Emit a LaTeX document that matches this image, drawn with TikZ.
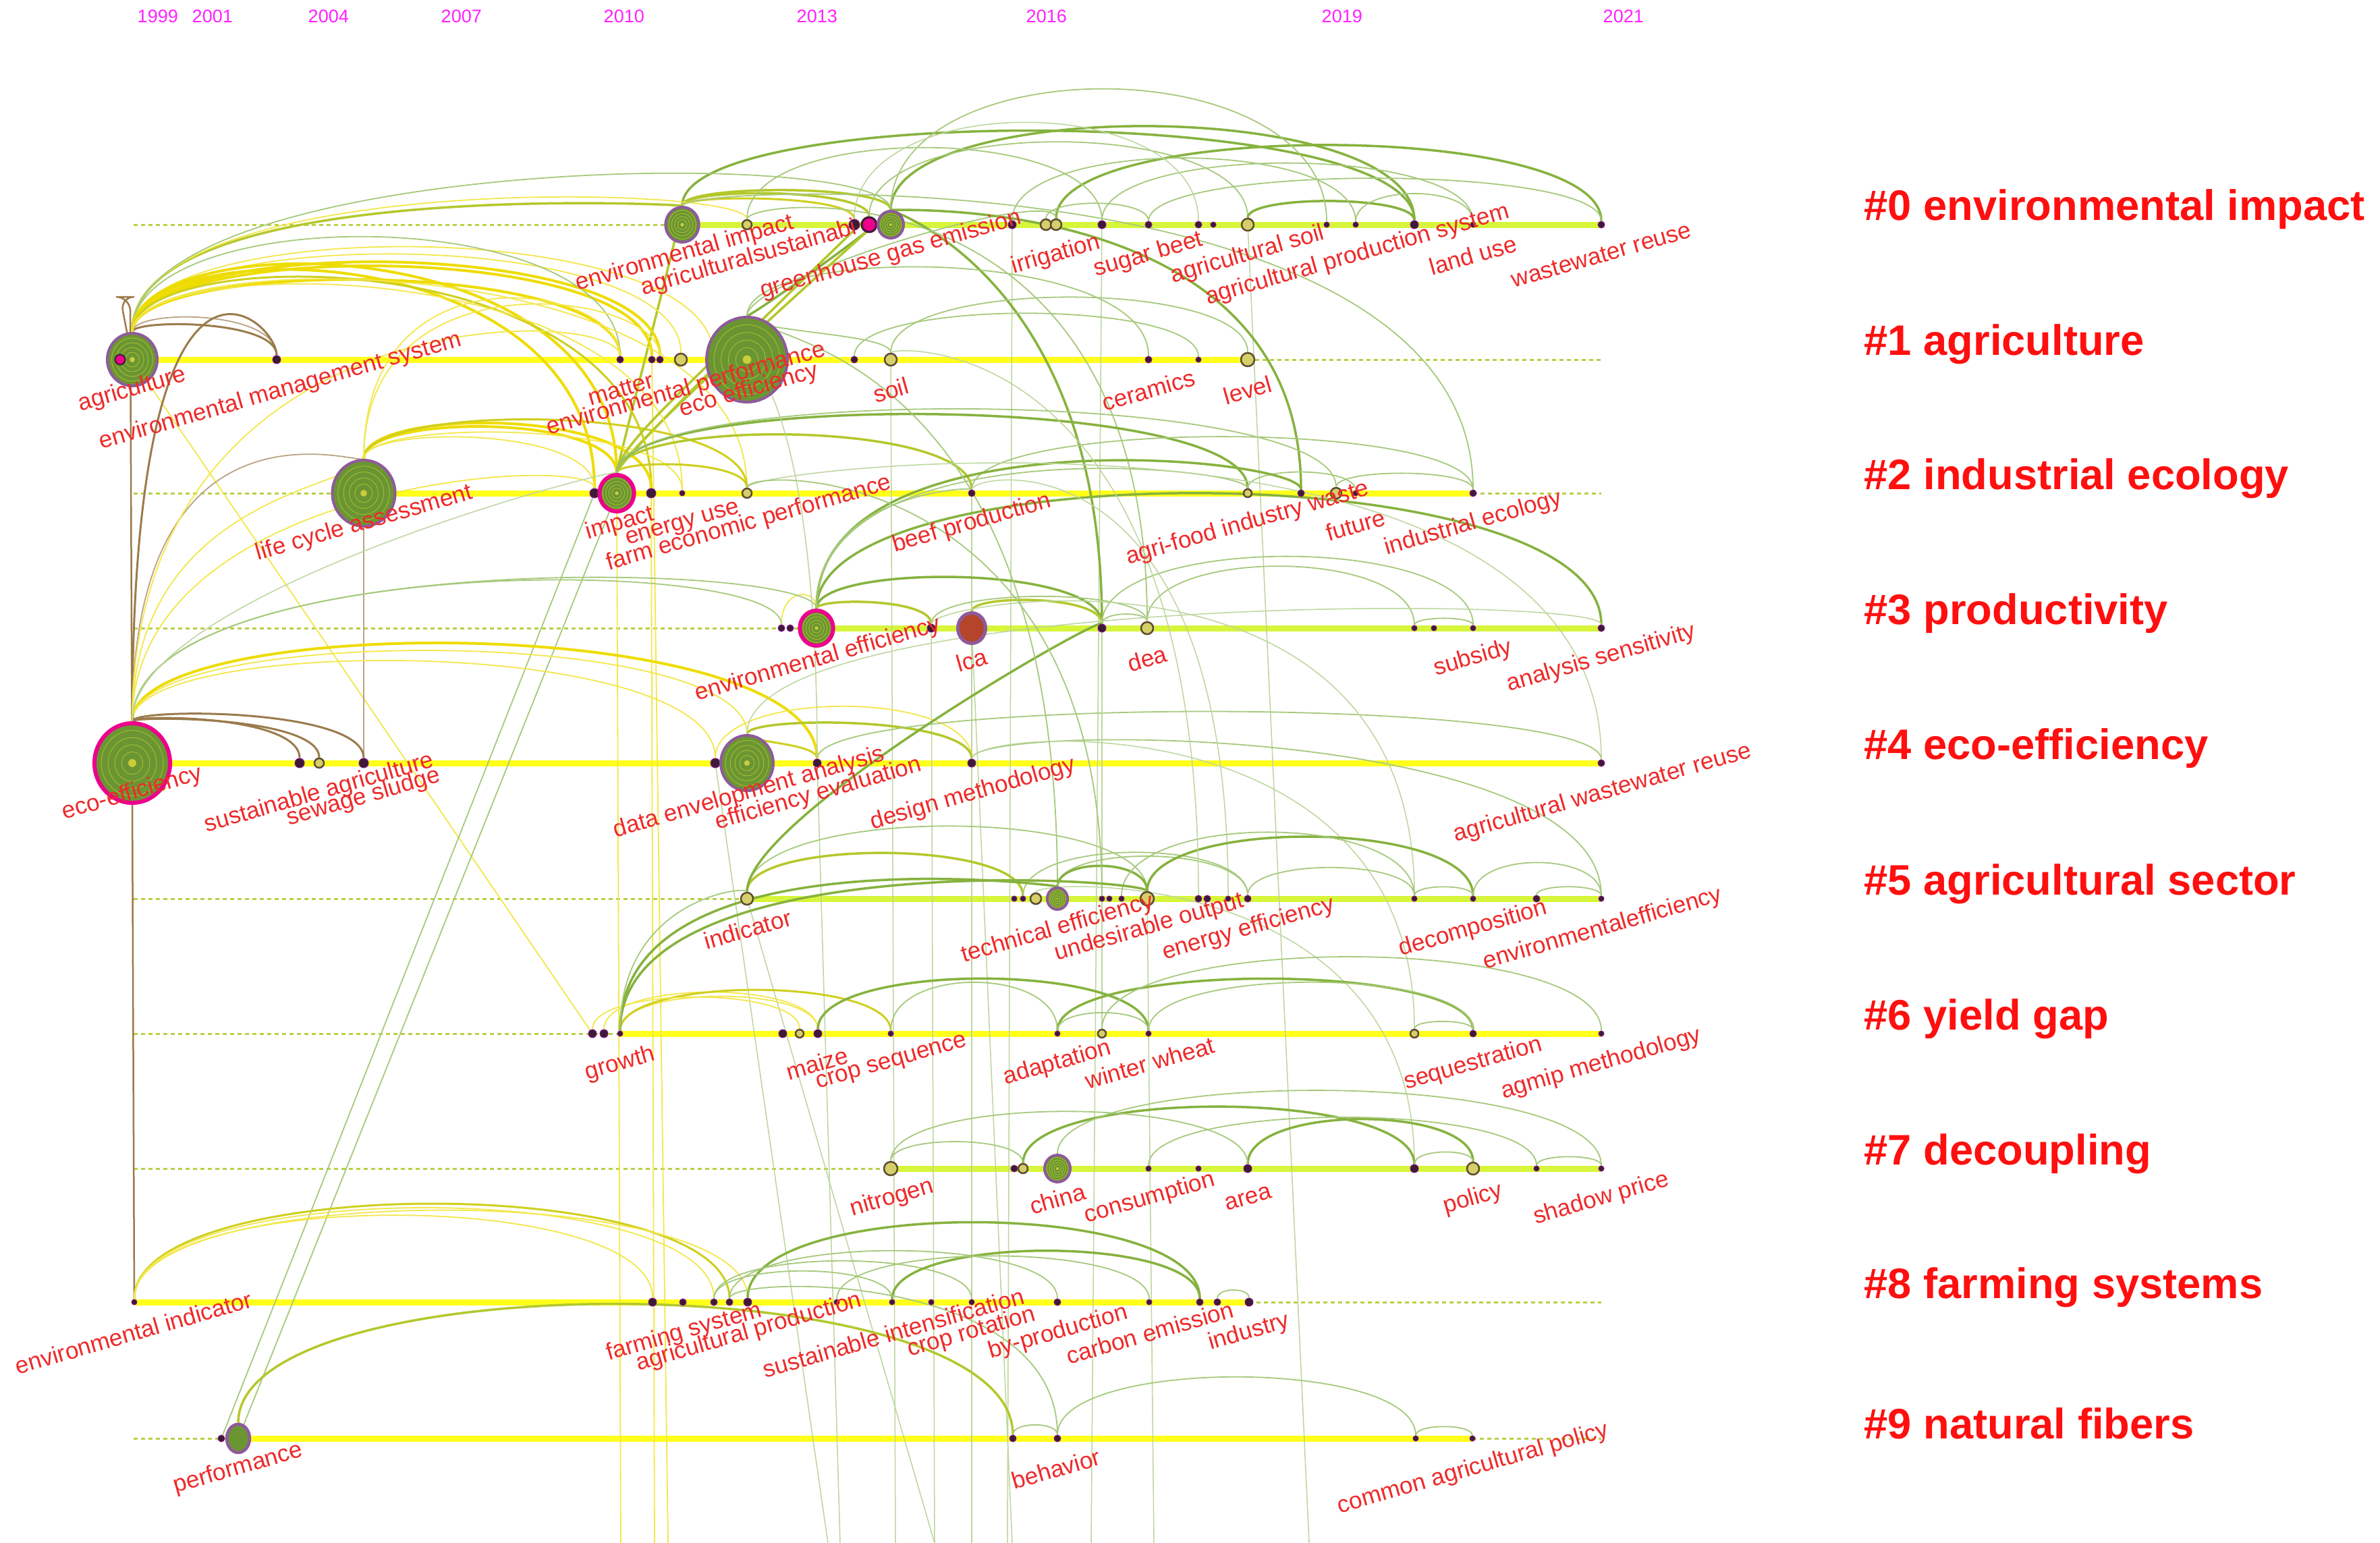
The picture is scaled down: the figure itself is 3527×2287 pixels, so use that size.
\documentclass[tikz,border=0pt]{standalone}
\usepackage{fontspec}
\setmainfont{Liberation Sans}
\usetikzlibrary{shapes.geometric}
\pgfdeclarelayer{back}
\pgfdeclarelayer{rows}
\pgfdeclarelayer{arcs}
\pgfsetlayers{back,rows,arcs,main}
\definecolor{cY}{HTML}{FFFF1A}
\definecolor{cL}{HTML}{D7F53A}
\definecolor{cD}{HTML}{B9D045}
\definecolor{aY}{HTML}{EEDC00}
\definecolor{aO}{HTML}{CFCF1F}
\definecolor{aYG}{HTML}{B4C82C}
\definecolor{aG}{HTML}{86B23E}
\definecolor{aGL}{HTML}{A6C97C}
\definecolor{aBR}{HTML}{9B7B4C}
\definecolor{lblred}{HTML}{EE2A2A}
\definecolor{clred}{HTML}{FF0F0F}
\definecolor{yrc}{HTML}{FF22FF}
\definecolor{nfill}{HTML}{6B9533}
\definecolor{nring}{HTML}{8E5A9C}
\definecolor{nin}{HTML}{93B23F}
\definecolor{ndark}{HTML}{3A1C38}
\definecolor{nopen}{HTML}{D5CF6A}
\definecolor{nopend}{HTML}{5E4B30}
\definecolor{lcaC}{HTML}{B5452A}
\tikzset{
 rowY/.style={cY, line width=0.9mm},
 rowL/.style={cL, line width=0.9mm},
 rowD/.style={cD, line width=0.3mm, dash pattern=on 0.6mm off 0.5mm},
 lbl/.style={text=lblred, font=\fontsize{10}{10}\selectfont, rotate=16, inner sep=0pt},
 clu/.style={text=clred, font=\fontsize{18}{18}\selectfont\bfseries, anchor=west, inner sep=0pt},
 yrs/.style={text=yrc, font=\fontsize{7.7}{8}\selectfont, anchor=west, inner sep=0pt},
 dk/.style={circle, fill=ndark, draw=ndark!60!magenta, line width=0.1mm, inner sep=0pt, minimum size={#1*0.2mm}},
 op/.style={circle, fill=nopen, draw=nopend, line width=0.25mm, inner sep=0pt, minimum size={#1*0.2mm}},
 bgn/.style={ellipse, fill=nfill, draw=nring, line width=0.4mm, inner sep=0pt, minimum width={#1*0.19mm}, minimum height={#1*0.2mm}},
 bmg/.style={ellipse, fill=nfill, draw=magenta, line width=0.6mm, inner sep=0pt, minimum width={#1*0.19mm}, minimum height={#1*0.2mm}},
 ly/.style={aY, line width=0.4mm},
 lyt/.style={aY!70!white, line width=0.18mm},
 lyo/.style={aO, line width=0.3mm},
 lyg/.style={aYG, line width=0.35mm},
 lg/.style={aG, line width=0.35mm},
 lgt/.style={aGL, line width=0.18mm},
 lgl/.style={aGL!75!white, line width=0.15mm},
 lbr/.style={aBR, line width=0.3mm},
 lbrt/.style={aBR!70!white, line width=0.18mm}
}
\newcommand\lk[5][lgt]{\draw[#1] (#2) .. controls +(0,-#4) and +(0,-#5) .. (#3);}
\newcommand\dn[4]{\node[dk=#4] (#1) at (#2,#3) {};}
\newcommand\on[4]{\node[op=#4] (#1) at (#2,#3) {};}
\newcommand\bnode[5]{\node[#5=#4] (#1) at (#2,#3) {};
 \foreach \f in {0.82,0.64,0.46,0.28}{\draw[nin!75!yellow, line width=0.1mm, opacity=0.8] (#1.center) ellipse[x radius=0.95*\f*#4, y radius=\f*#4];}
 \fill[yellow!60!nfill] (#1.center) circle[radius=0.1*#4];}
\begin{document}
\begin{tikzpicture}[x=0.1mm,y=-0.1mm]
\useasboundingbox (0,0) rectangle (3527,2287);
\begin{pgfonlayer}{back}
\fill[white] (0,0) rectangle (3527,2287);
\end{pgfonlayer}
% ---------- years
\node[yrs] (y1999) at (203,24) {1999};
\node[yrs] (y2001) at (284,24) {2001};
\node[yrs] (y2004) at (456,24) {2004};
\node[yrs] (y2007) at (653,24) {2007};
\node[yrs] (y2010) at (894,24) {2010};
\node[yrs] (y2013) at (1180,24) {2013};
\node[yrs] (y2016) at (1520,24) {2016};
\node[yrs] (y2019) at (1958,24) {2019};
\node[yrs] (y2021) at (2375,24) {2021};
% ---------- row 0
\bnode{r0a}{1011}{333}{26}{bgn}
\on{r0b}{1107}{333}{7}
\dn{r0c}{1266}{333}{8}
\node[circle, fill=magenta, draw=ndark, line width=0.3mm, minimum size=2.2mm, inner sep=0pt] (r0d) at (1288,333) {};
\bnode{r0e}{1320}{333}{20}{bgn}
\dn{r0f}{1500}{333}{6}
\on{r0g}{1550}{333}{8}
\on{r0h}{1565}{333}{8}
\dn{r0i}{1633}{333}{6}
\dn{r0j}{1702}{333}{5}
\dn{r0k}{1776}{333}{5}
\dn{r0l}{1798}{333}{4}
\on{r0m}{1849}{333}{9}
\dn{r0n}{1966}{333}{4}
\dn{r0o}{2009}{333}{4}
\dn{r0p}{2096}{333}{6}
\dn{r0q}{2183}{333}{4}
\dn{r0r}{2373}{333}{5}
% ---------- row 1
\bnode{r1a}{196}{533}{39}{bgn}
\node[circle, fill=magenta, draw=ndark, line width=0.2mm, minimum size=1.5mm, inner sep=0pt] (r1am) at (178,533) {};
\dn{r1b}{410}{533}{6}
\dn{r1c}{919}{533}{5}
\dn{r1d}{966}{533}{5}
\dn{r1e}{978}{533}{5}
\on{r1f}{1009}{533}{9}
\dn{r1g}{1057}{533}{6}
\bnode{r1h}{1107}{533}{63}{bgn}
\dn{r1i}{1266}{533}{5}
\on{r1j}{1320}{533}{9}
\dn{r1k}{1702}{533}{5}
\dn{r1l}{1776}{533}{4}
\on{r1m}{1849}{533}{10}
% ---------- row 2
\bnode{r2a}{539}{731}{49}{bgn}
\dn{r2b}{881}{731}{7}
\bnode{r2c}{914}{731}{27}{bmg}
\dn{r2d}{965}{731}{7}
\dn{r2e}{1011}{731}{4}
\on{r2f}{1107}{731}{7}
\dn{r2g}{1440}{731}{5}
\on{r2h}{1849}{731}{6}
\dn{r2i}{1928}{731}{5}
\on{r2j}{1980}{731}{8}
\dn{r2k}{2009}{731}{4}
\dn{r2l}{2183}{731}{5}
% ---------- row 3
\dn{r3a}{1158}{931}{5}
\dn{r3b}{1171}{931}{5}
\bnode{r3c}{1210}{931}{26}{bmg}
\dn{r3d}{1380}{931}{6}
\node[ellipse, fill=lcaC, draw=nring, line width=0.5mm, minimum width=4.1mm, minimum height=4.5mm, inner sep=0pt] (r3e) at (1440,931) {};
\dn{r3f}{1633}{931}{6}
\on{r3g}{1700}{931}{9}
\dn{r3h}{2096}{931}{4}
\dn{r3i}{2125}{931}{4}
\dn{r3j}{2183}{931}{4}
\dn{r3k}{2373}{931}{5}
% ---------- row 4
\bnode{r4a}{196}{1131}{59}{bmg}
\dn{r4b}{444}{1131}{7}
\on{r4c}{473}{1131}{7}
\dn{r4d}{539}{1131}{7}
\dn{r4e}{1060}{1131}{7}
\bnode{r4f}{1107}{1131}{41}{bgn}
\dn{r4g}{1211}{1131}{6}
\dn{r4h}{1440}{1131}{6}
\dn{r4i}{2373}{1131}{5}
% ---------- row 5
\on{r5a}{1107}{1332}{9}
\dn{r5b}{1503}{1332}{4}
\dn{r5c}{1516}{1332}{4}
\on{r5d}{1535}{1332}{8}
\bnode{r5e}{1567}{1332}{16}{bgn}
\dn{r5f}{1633}{1332}{4}
\dn{r5g}{1644}{1332}{4}
\dn{r5h}{1662}{1332}{4}
\on{r5i}{1700}{1332}{10}
\dn{r5j}{1776}{1332}{5}
\dn{r5k}{1789}{1332}{5}
\dn{r5l}{1820}{1332}{4}
\dn{r5m}{1849}{1332}{5}
\dn{r5n}{2096}{1332}{4}
\dn{r5o}{2183}{1332}{4}
\dn{r5p}{2277}{1332}{5}
\dn{r5q}{2373}{1332}{4}
% ---------- row 6
\dn{r6a}{878}{1532}{6}
\dn{r6b}{895}{1532}{6}
\dn{r6c}{919}{1532}{4}
\dn{r6d}{1160}{1532}{6}
\on{r6e}{1185}{1532}{6}
\dn{r6f}{1212}{1532}{6}
\dn{r6g}{1320}{1532}{4}
\dn{r6h}{1567}{1532}{4}
\on{r6i}{1633}{1532}{6}
\dn{r6j}{1702}{1532}{4}
\on{r6k}{2096}{1532}{6}
\dn{r6l}{2183}{1532}{5}
\dn{r6m}{2373}{1532}{4}
% ---------- row 7
\on{r7a}{1320}{1732}{10}
\dn{r7b}{1503}{1732}{5}
\on{r7c}{1516}{1732}{7}
\bnode{r7d}{1567}{1732}{20}{bgn}
\dn{r7e}{1702}{1732}{4}
\dn{r7f}{1776}{1732}{4}
\dn{r7g}{1849}{1732}{6}
\dn{r7h}{2096}{1732}{6}
\on{r7i}{2183}{1732}{9}
\dn{r7j}{2277}{1732}{4}
\dn{r7k}{2373}{1732}{4}
% ---------- row 8
\dn{r8a}{199}{1930}{4}
\dn{r8b}{967}{1930}{6}
\dn{r8c}{1012}{1930}{5}
\dn{r8d}{1058}{1930}{5}
\dn{r8e}{1081}{1930}{5}
\dn{r8f}{1108}{1930}{6}
\dn{r8g}{1240}{1930}{4}
\dn{r8h}{1322}{1930}{4}
\dn{r8i}{1380}{1930}{4}
\dn{r8j}{1440}{1930}{4}
\dn{r8k}{1567}{1930}{5}
\dn{r8l}{1703}{1930}{4}
\dn{r8m}{1778}{1930}{5}
\dn{r8n}{1804}{1930}{5}
\dn{r8o}{1851}{1930}{6}
% ---------- row 9
\dn{r9a}{328}{2132}{5}
\node[ellipse, fill=nfill, draw=nring, line width=0.45mm, minimum width=3.4mm, minimum height=4.2mm, inner sep=0pt] (r9b) at (353,2132) {};
\dn{r9c}{1501}{2132}{5}
\dn{r9d}{1567}{2132}{5}
\dn{r9e}{2098}{2132}{4}
\dn{r9f}{2182}{2132}{4}
% ---------- free coordinates
\coordinate (s0) at (198,333); \coordinate (s2) at (198,731); \coordinate (s3) at (198,931);
\coordinate (s5) at (198,1332); \coordinate (s6) at (198,1532); \coordinate (s7) at (198,1732);
\coordinate (s9) at (198,2132);
\coordinate (e1) at (2373,533); \coordinate (e2) at (2373,731); \coordinate (e8) at (2373,1930); \coordinate (e9) at (2373,2132);
\coordinate (vt1) at (193,440); \coordinate (vt2) at (178,440);
\coordinate (b1) at (920,2287); \coordinate (b2) at (970,2287); \coordinate (b3) at (1227,2287);
\coordinate (b4) at (1327,2287); \coordinate (b5) at (1385,2287); \coordinate (b6) at (1440,2287);
\coordinate (b7) at (1493,2287); \coordinate (b8) at (1617,2287); \coordinate (b9) at (1940,2287);
\coordinate (b10) at (990,2287); \coordinate (b11) at (1245,2287); \coordinate (b12) at (1385,2287);
\coordinate (b13) at (1500,2287); \coordinate (b14) at (1710,2287);
% ---------- row lines
\begin{pgfonlayer}{rows}
\draw[rowD] (s0) -- (r0a.center); \draw[rowL] (r0a.center) -- (r0r.center);
\draw[rowY] (r1a.center) -- (r1m.center); \draw[rowD] (r1m.center) -- (e1);
\draw[rowD] (s2) -- (r2a.center); \draw[rowY] (r2a.center) -- (r2l.center); \draw[rowD] (r2l.center) -- (e2);
\draw[rowD] (s3) -- (r3c.center); \draw[rowL] (r3c.center) -- (r3k.center);
\draw[rowY] (r4a.center) -- (r4i.center);
\draw[rowD] (s5) -- (r5a.center); \draw[rowL] (r5a.center) -- (r5q.center);
\draw[rowD] (s6) -- (r6c.center); \draw[rowY] (r6c.center) -- (r6m.center);
\draw[rowD] (s7) -- (r7a.center); \draw[rowL] (r7a.center) -- (r7k.center);
\draw[rowY] (r8a.center) -- (r8o.center); \draw[rowD] (r8o.center) -- (e8);
\draw[rowD] (s9) -- (r9b.center); \draw[rowY] (r9b.center) -- (r9f.center); \draw[rowD] (r9f.center) -- (e9);
\end{pgfonlayer}
% ---------- links
\begin{pgfonlayer}{arcs}
% long straight-ish lines
\draw[lyt] (r2c) -- (b1); \draw[lyt] (r2d) -- (b2); \draw[lyt] (r1d) -- (b10);
\draw[lgl] (r4e) -- (b3); \draw[lgl] (r1j) -- (b4); \draw[lgl] (r3d) -- (b5);
\draw[lgl] (r2g) -- (b6); \draw[lgl] (r0f) -- (b7); \draw[lgl] (r0i) -- (b8); \draw[lgl] (r0m) -- (b9);
\draw[lgl] (r4g) -- (b11); \draw[lgl] (r5a) -- (b12); \draw[lgl] (r3e) -- (b13); \draw[lgl] (r5i) -- (b14);
\draw[lyt] (r1a) -- (r6a); \draw[lgt] (r2b) -- (r9a); \draw[lgt] (r9b) -- (r2c);
\draw[lbr, line width=0.25mm, rounded corners=6] (r8a.center) -- (vt1) -- (vt2) -- (r1a.center);
\draw[lbrt] (r2a) -- (r4d);
% row 0
\lk[lg]{r0a}{r0p}{180}{180}
\lk[lyg]{r0a}{r0e}{60}{60}
\lk[lyg]{r0a}{r0d}{55}{55}
\lk[lyo]{r0a}{r0c}{45}{45}
\lk[lg]{r0e}{r0p}{190}{190}
\lk[lgt]{r0d}{r0m}{160}{160}
\lk[lg]{r0h}{r0r}{155}{155}
\lk[lgt]{r0j}{r0r}{90}{90}
\lk[lg]{r0m}{r0p}{44}{44}
\lk[lgt]{r0e}{r0n}{264}{264}
\lk[lgt]{r0b}{r0i}{150}{150}
\lk[lgt]{r0f}{r0o}{130}{130}
\lk[lgt]{r0i}{r0q}{120}{120}
\lk[lgl]{r0c}{r0k}{200}{200}
\lk[lgt]{r0o}{r0q}{60}{60}
\lk[lgt]{r0g}{r0j}{40}{40}
\lk[lyg]{r1a}{r0a}{270}{30}
\lk[lyt]{r1a}{r0b}{280}{60}
\lk[lgt]{r1a}{r0e}{300}{120}
\lk[lg]{r1h}{r0e}{60}{10}
\lk[lgt]{r1h}{r0h}{120}{60}
\lk[lyg]{r2c}{r0a}{40}{10}
\lk[lyg]{r2c}{r0e}{60}{20}
\lk[lyg]{r2c}{r0d}{50}{15}
\lk[lg]{r0e}{r3f}{20}{520}
\lk[lg]{r0e}{r2i}{20}{450}
\lk[lgt]{r0a}{r2l}{60}{500}
\lk[lgt]{r0b}{r3g}{40}{700}
% row 1
\lk[ly]{r1a}{r1d}{177}{177}
\lk[ly]{r1a}{r1e}{185}{185}
\lk[ly]{r1a}{r1c}{150}{150}
\lk[lyt]{r1a}{r1f}{200}{200}
\lk[lyt]{r1a}{r1g}{215}{215}
\lk[lgt]{r1a}{r1c}{235}{235}
\lk[lbr]{r1a}{r1b}{60}{60}
\lk[lbrt]{r1a}{r1b}{75}{75}
\lk[ly]{r1a}{r2c}{200}{398}
\lk[ly]{r1a}{r2b}{190}{388}
\lk[lyo]{r1a}{r2d}{175}{373}
\lk[lyt]{r1a}{r2e}{160}{358}
\lk[lyt]{r1a}{r2f}{170}{368}
\lk[lgt]{r1h}{r1j}{40}{40}
\lk[lgt]{r1h}{r1k}{170}{170}
\lk[lgt]{r1j}{r1m}{120}{120}
\lk[lgt]{r1i}{r1l}{90}{90}
% row 2
\lk[ly]{r2a}{r2c}{118}{118}
\lk[ly]{r2a}{r2d}{128}{128}
\lk[lyo]{r2a}{r2f}{135}{135}
\lk[lyt]{r2a}{r2e}{110}{110}
\lk[lyt]{r2a}{r2b}{100}{100}
\lk[lyt]{r2a}{r1c}{375}{110}
\lk[lyt]{r2a}{r1e}{360}{100}
\lk[lyg]{r2c}{r2g}{110}{110}
\lk[lyo]{r2c}{r2f}{50}{50}
\lk[lyg]{r2c}{r1h}{80}{30}
\lk[lg]{r2c}{r2h}{150}{150}
\lk[lgt]{r2c}{r2j}{160}{160}
\lk[lgt]{r2h}{r2k}{40}{40}
\lk[lgt]{r2j}{r2l}{37}{37}
\lk[lgt]{r2g}{r2l}{110}{110}
% row 3
\lk[lg]{r3c}{r3k}{261}{261}
\lk[lg]{r3c}{r3f}{95}{95}
\lk[lyg]{r3e}{r3f}{50}{50}
\lk[lg]{r3c}{r2i}{321}{55}
\lk[lgt]{r3c}{r2h}{300}{40}
\lk[lyg]{r3c}{r3d}{45}{45}
\lk[lyt]{r3a}{r3c}{60}{60}
\lk[lgt]{r3g}{r3h}{120}{120}
\lk[lgt]{r3f}{r3j}{140}{140}
\lk[lgt]{r3h}{r3j}{18}{18}
\lk[lgt]{r3d}{r3g}{60}{60}
\lk[lgt]{r3f}{r3g}{25}{25}
\lk[lgt]{r3c}{r2g}{200}{10}
% row 4
\lk[ly]{r4a}{r4g}{225}{225}
\lk[lyt]{r4a}{r4e}{190}{190}
\lk[lyt]{r4a}{r4f}{205}{205}
\lk[lbr]{r4a}{r4b}{72}{72}
\lk[lbr]{r4a}{r4c}{70}{70}
\lk[lbr]{r4a}{r4d}{82}{82}
\lk[lgt]{r4a}{r3a}{310}{110}
\lk[lgt]{r4a}{r3c}{320}{100}
\lk[lbr]{r4a}{r1b}{855}{60}
\lk[lbrt]{r4a}{r2a}{568}{40}
\lk[lyt]{r4a}{r2a}{400}{10}
\lk[lyt]{r4a}{r2b}{420}{60}
\lk[lyt]{r4a}{r1c}{700}{80}
\lk[lgl]{r4a}{r2c}{250}{40}
\lk[lyo]{r4f}{r4g}{30}{30}
\lk[lyt]{r4e}{r4h}{110}{110}
\lk[lyg]{r4f}{r4h}{70}{70}
\lk[lgt]{r4h}{r5q}{60}{260}
\lk[lgt]{r4g}{r4i}{100}{100}
% extra pale cross-row links
\lk[lgl]{r4f}{r3k}{250}{50}
\lk[lgl]{r2f}{r4i}{40}{575}
\lk[lgl]{r3d}{r5n}{40}{560}
\lk[lgl]{r2g}{r5l}{30}{700}
\lk[lgl]{r4h}{r6k}{50}{500}
\lk[lgl]{r5d}{r7h}{30}{450}
\lk[lgl]{r3f}{r6i}{20}{650}
\lk[lgl]{r1g}{r4g}{60}{650}
% row 5
\lk[lyg]{r5a}{r5c}{88}{88}
\lk[lgt]{r5a}{r5i}{140}{140}
\lk[lg]{r5a}{r3f}{120}{20}
\lk[lgt]{r5e}{r5m}{80}{80}
\lk[lg]{r5e}{r5i}{60}{60}
\lk[lgt]{r5c}{r5m}{90}{90}
\lk[lg]{r5i}{r5o}{120}{120}
\lk[lgt]{r5h}{r5n}{130}{130}
\lk[lgt]{r5m}{r5n}{60}{60}
\lk[lgt]{r5n}{r5o}{22}{22}
\lk[lgt]{r5p}{r5q}{22}{22}
\lk[lgt]{r5o}{r5q}{70}{70}
\lk[lgt]{r1h}{r5e}{30}{830}
\lk[lgt]{r2f}{r5f}{40}{650}
\lk[lgl]{r1j}{r5j}{20}{850}
% row 6
\lk[lyt]{r6c}{r6f}{72}{72}
\lk[lyt]{r6b}{r6f}{80}{80}
\lk[lyo]{r6c}{r6g}{85}{85}
\lk[lyt]{r6a}{r6e}{70}{70}
\lk[lg]{r6c}{r5e}{300}{20}
\lk[lg]{r6c}{r5i}{280}{30}
\lk[lgt]{r6c}{r5a}{200}{20}
\lk[lg]{r6f}{r6j}{107}{107}
\lk[lgt]{r6g}{r6h}{100}{100}
\lk[lg]{r6h}{r6l}{107}{107}
\lk[lgt]{r6j}{r6l}{100}{100}
\lk[lgt]{r6k}{r6l}{22}{22}
\lk[lgt]{r6i}{r6m}{150}{150}
\lk[lgt]{r6h}{r6j}{40}{40}
% row 7
\lk[lg]{r7c}{r7h}{120}{120}
\lk[lg]{r7g}{r7i}{95}{95}
\lk[lgt]{r7a}{r7g}{110}{110}
\lk[lgt]{r7d}{r7k}{150}{150}
\lk[lgt]{r7e}{r7j}{100}{100}
\lk[lgt]{r7j}{r7k}{22}{22}
\lk[lgt]{r7h}{r7i}{30}{30}
\lk[lgt]{r7a}{r7c}{50}{50}
% row 8
\lk[lyo]{r8a}{r8e}{193}{193}
\lk[lyt]{r8a}{r8d}{185}{185}
\lk[lyt]{r8a}{r8f}{180}{180}
\lk[lyt]{r8a}{r8b}{170}{170}
\lk[lg]{r8f}{r8m}{156}{156}
\lk[lgt]{r8e}{r8k}{100}{100}
\lk[lgt]{r8d}{r8j}{80}{80}
\lk[lgt]{r8d}{r8h}{60}{60}
\lk[lg]{r8h}{r8m}{100}{100}
\lk[lgt]{r8n}{r8o}{22}{22}
\lk[lgt]{r8g}{r8l}{90}{90}
% row 9
\lk[lyg]{r9b}{r9c}{261}{261}
\lk[lgt]{r9c}{r9d}{25}{25}
\lk[lgt]{r9d}{r9e}{120}{120}
\lk[lgt]{r9e}{r9f}{22}{22}
\lk[lgt]{r8e}{r9d}{40}{250}
\end{pgfonlayer}
% ---------- keyword labels
\node[lbl] (t01) at (1015,376) {environmental impact};
\node[lbl] (t02) at (1110,383) {agriculturalsustainabi};
\node[lbl] (t03) at (1320,378) {greenhouse gas emission};
\node[lbl] (t04) at (1565,378) {irrigation};
\node[lbl] (t05) at (1702,378) {sugar beet};
\node[lbl] (t06) at (1849,378) {agricultural soil};
\node[lbl] (t07) at (2012,378) {agricultural production system};
\node[lbl] (t08) at (2183,378) {land use};
\node[lbl] (t09) at (2373,378) {wastewater reuse};
\node[lbl] (t11) at (196,578) {agriculture};
\node[lbl] (t12) at (416,580) {environmental management system};
\node[lbl] (t13) at (920,577) {matter};
\node[lbl] (t14) at (1017,577) {environmental performance};
\node[lbl] (t15) at (1110,579) {eco efficiency};
\node[lbl] (t16) at (1320,578) {soil};
\node[lbl] (t17) at (1702,578) {ceramics};
\node[lbl] (t18) at (1849,578) {level};
\node[lbl] (t21) at (540,776) {life cycle assessment};
\node[lbl] (t22) at (919,776) {impact};
\node[lbl] (t23) at (1012,778) {energy use};
\node[lbl] (t24) at (1110,776) {farm economic performance};
\node[lbl] (t25) at (1440,776) {beef production};
\node[lbl] (t26) at (1849,776) {agri-food industry waste};
\node[lbl] (t27) at (2009,778) {future};
\node[lbl] (t28) at (2183,776) {industrial ecology};
\node[lbl] (t31) at (1212,978) {environmental efficiency};
\node[lbl] (t32) at (1440,978) {lca};
\node[lbl] (t33) at (1700,976) {dea};
\node[lbl] (t34) at (2183,976) {subsidy};
\node[lbl] (t35) at (2373,976) {analysis sensitivity};
\node[lbl] (t41) at (196,1176) {eco-efficiency};
\node[lbl] (t42) at (473,1176) {sustainable agriculture};
\node[lbl] (t43) at (539,1182) {sewage sludge};
\node[lbl] (t44) at (1110,1175) {data envelopment analysis};
\node[lbl] (t45) at (1213,1177) {efficiency evaluation};
\node[lbl] (t46) at (1442,1177) {design methodology};
\node[lbl] (t47) at (2375,1176) {agricultural wastewater reuse};
\node[lbl] (t51) at (1108,1377) {indicator};
\node[lbl] (t52) at (1567,1377) {technical efficiency};
\node[lbl] (t53) at (1703,1375) {undesirable output};
\node[lbl] (t54) at (1850,1377) {energy efficiency};
\node[lbl] (t55) at (2183,1377) {decomposition};
\node[lbl] (t56) at (2375,1377) {environmentalefficiency};
\node[lbl] (t61) at (919,1577) {growth};
\node[lbl] (t62) at (1211,1576) {maize};
\node[lbl] (t63) at (1322,1576) {crop sequence};
\node[lbl] (t64) at (1567,1576) {adaptation};
\node[lbl] (t65) at (1704,1575) {winter wheat};
\node[lbl] (t66) at (2183,1577) {sequestration};
\node[lbl] (t67) at (2373,1577) {agmip methodology};
\node[lbl] (t71) at (1322,1776) {nitrogen};
\node[lbl] (t72) at (1567,1777) {china};
\node[lbl] (t73) at (1704,1776) {consumption};
\node[lbl] (t74) at (1850,1776) {area};
\node[lbl] (t75) at (2183,1777) {policy};
\node[lbl] (t76) at (2373,1777) {shadow price};
\node[lbl] (t81) at (198,1975) {environmental indicator};
\node[lbl] (t82) at (1014,1975) {farming system};
\node[lbl] (t83) at (1110,1975) {agricultural production};
\node[lbl] (t84) at (1324,1975) {sustainable intensification};
\node[lbl] (t85) at (1440,1975) {crop rotation};
\node[lbl] (t86) at (1568,1975) {by-production};
\node[lbl] (t87) at (1704,1975) {carbon emission};
\node[lbl] (t88) at (1851,1975) {industry};
\node[lbl] (t91) at (353,2177) {performance};
\node[lbl] (t92) at (1565,2177) {behavior};
\node[lbl] (t93) at (2183,2177) {common agricultural policy};
% ---------- cluster labels
\node[clu] (c0) at (2762,310) {\#0 environmental impact};
\node[clu] (c1) at (2762,510) {\#1 agriculture};
\node[clu] (c2) at (2762,709) {\#2 industrial ecology};
\node[clu] (c3) at (2762,909) {\#3 productivity};
\node[clu] (c4) at (2762,1109) {\#4 eco-efficiency};
\node[clu] (c5) at (2762,1310) {\#5 agricultural sector};
\node[clu] (c6) at (2762,1510) {\#6 yield gap};
\node[clu] (c7) at (2762,1710) {\#7 decoupling};
\node[clu] (c8) at (2762,1908) {\#8 farming systems};
\node[clu] (c9) at (2762,2110) {\#9 natural fibers};
\end{tikzpicture}
\end{document}
